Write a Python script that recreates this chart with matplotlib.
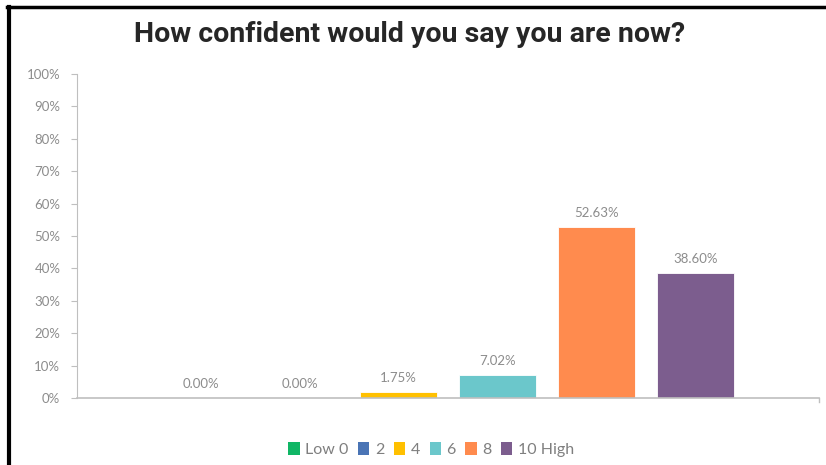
import matplotlib.pyplot as plt
from matplotlib.patches import Patch
from matplotlib.ticker import PercentFormatter

# survey answers, share of respondents (%)
levels = ["Low 0", "2", "4", "6", "8", "10 High"]
shares = [0.00, 0.00, 1.75, 7.02, 52.63, 38.60]
colors = ["#10B665", "#4A74B5", "#FFC000", "#6BC7CB", "#FF8B4E", "#7C5D8E"]

grey_text = "#8C8C8C"
grey_line = "#BFBFBF"

fig = plt.figure(figsize=(8.26, 4.65), dpi=100)
ax = fig.add_axes([77 / 826, 1 - 398 / 465, 742 / 826, 324 / 465])

x = list(range(len(levels)))
bars = ax.bar(x, shares, width=0.78, color=colors, edgecolor="white", linewidth=0.6)

for rect, v in zip(bars, shares):
    ax.annotate(f"{v:.2f}%", (rect.get_x() + rect.get_width() / 2, v),
                xytext=(0, 6), textcoords="offset points", ha="center", va="bottom",
                fontsize=9.5, color=grey_text, family=["Lato", "DejaVu Sans"])

ax.set_xlim(-1.25, 6.25)
ax.set_ylim(0, 100)
ax.set_yticks(range(0, 101, 10))
ax.yaxis.set_major_formatter(PercentFormatter(decimals=0))
ax.set_xticks([])

for side in ["top", "right"]:
    ax.spines[side].set_visible(False)
ax.spines["left"].set_color(grey_line)
ax.spines["bottom"].set_color(grey_line)
ax.spines["bottom"].set_linewidth(1.2)
ax.tick_params(axis="y", length=4, color=grey_line, labelcolor=grey_text, labelsize=9.5, pad=8)
for lab in ax.get_yticklabels():
    lab.set_family(["Lato", "DejaVu Sans"])

# small closing tick at the right end of the x axis
ax.plot([6.25, 6.25], [0, -1.2], color=grey_line, lw=1, clip_on=False)

fig.text(0.496, 0.926, "How confident would you say you are now?", ha="center", va="center",
         fontsize=20.5, fontweight="bold", color="#262626",
         family=["Roboto", "DejaVu Sans"])

handles = [Patch(facecolor=c, label=l) for c, l in zip(colors, levels)]
leg = fig.legend(handles=handles, loc="center", bbox_to_anchor=(0.522, 0.033), ncol=6,
                 frameon=False, handlelength=0.7, handleheight=0.9, handletextpad=0.35,
                 columnspacing=0.6, prop={"family": ["Lato", "DejaVu Sans"], "size": 11.5})
for t in leg.get_texts():
    t.set_color("#7F7F7F")

# black frame on top and left edge
fig.add_artist(plt.Line2D([7 / 826, 1], [1 - 7 / 465, 1 - 7 / 465], color="black", lw=2.5,
                          transform=fig.transFigure))
fig.add_artist(plt.Line2D([8.5 / 826, 8.5 / 826], [0, 1 - 7 / 465], color="black", lw=3,
                          transform=fig.transFigure))

fig.savefig("out.png", dpi=100)
